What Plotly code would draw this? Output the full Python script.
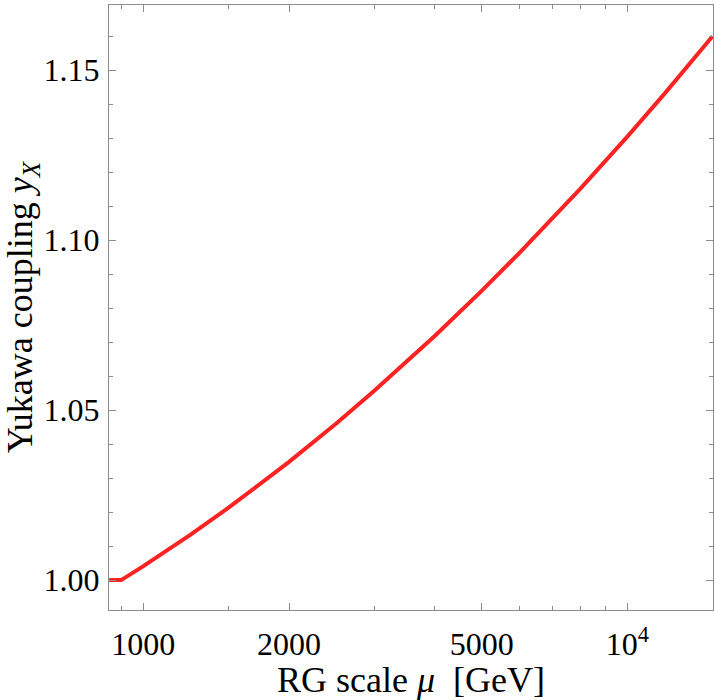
import plotly.graph_objects as go

# RG running of the Yukawa coupling
mu = [850, 900, 1000, 1250, 1500, 2000, 2500, 3000, 4000, 5000, 6000, 8000, 10000, 12000, 15000]
y_x = [1.000, 1.000, 1.0041, 1.0133, 1.0213, 1.0348, 1.0460, 1.0557, 1.0718, 1.0851,
       1.0964, 1.1152, 1.1305, 1.1435, 1.1600]

x_major = [1000, 2000, 5000, 10000]
x_major_text = ["1000", "2000", "5000", "10<sup>4</sup>"]
x_minor = [900, 1500, 3000, 4000, 6000, 7000, 8000, 9000, 15000]

y_major = [1.00, 1.05, 1.10, 1.15]
y_major_text = ["1.00", "1.05", "1.10", "1.15"]
y_minor = [0.99, 1.01, 1.02, 1.03, 1.04, 1.06, 1.07, 1.08, 1.09, 1.11, 1.12, 1.13, 1.14, 1.16]

serif = "Liberation Serif, Times New Roman, serif"
frame = "#8c8c8c"

fig = go.Figure()
fig.add_trace(go.Scatter(x=mu, y=y_x, mode="lines",
                         line=dict(color="#ff2222", width=4),
                         showlegend=False, hoverinfo="skip"))

fig.update_xaxes(type="log", range=[2.929, 4.177], automargin=False,
                 showgrid=False, zeroline=False,
                 showline=True, linecolor=frame, linewidth=1, mirror="allticks",
                 ticks="inside", ticklen=7, tickcolor=frame, ticklabelstandoff=6,
                 tickmode="array", tickvals=x_major, ticktext=x_major_text,
                 tickfont=dict(family=serif, size=32, color="black"),
                 minor=dict(tickmode="array", tickvals=x_minor, ticks="inside",
                            ticklen=4, tickcolor=frame, showgrid=False),
                 title=dict(text="RG scale <i>μ</i>  [GeV]",
                            font=dict(family=serif, size=36, color="black"),
                            standoff=4))

fig.update_yaxes(range=[0.9912, 1.1692], automargin=False,
                 showgrid=False, zeroline=False,
                 showline=True, linecolor=frame, linewidth=1, mirror="allticks",
                 ticks="inside", ticklen=7, tickcolor=frame, ticklabelstandoff=2,
                 tickmode="array", tickvals=y_major, ticktext=y_major_text,
                 tickfont=dict(family=serif, size=32, color="black"),
                 minor=dict(tickmode="array", tickvals=y_minor, ticks="inside",
                            ticklen=4, tickcolor=frame, showgrid=False),
                 title=dict(text="Yukawa coupling <i>y<sub>X</sub></i>",
                            font=dict(family=serif, size=36, color="black"),
                            standoff=6))

fig.update_layout(width=714, height=700,
                  margin=dict(l=109, r=1, t=5, b=90, autoexpand=False),
                  paper_bgcolor="white", plot_bgcolor="white")

# the page body has a default 8px margin; drop it so the figure sits at 0,0
fig.write_html("out.html", config={"displayModeBar": False},
               post_script="document.body.style.margin='0';")
